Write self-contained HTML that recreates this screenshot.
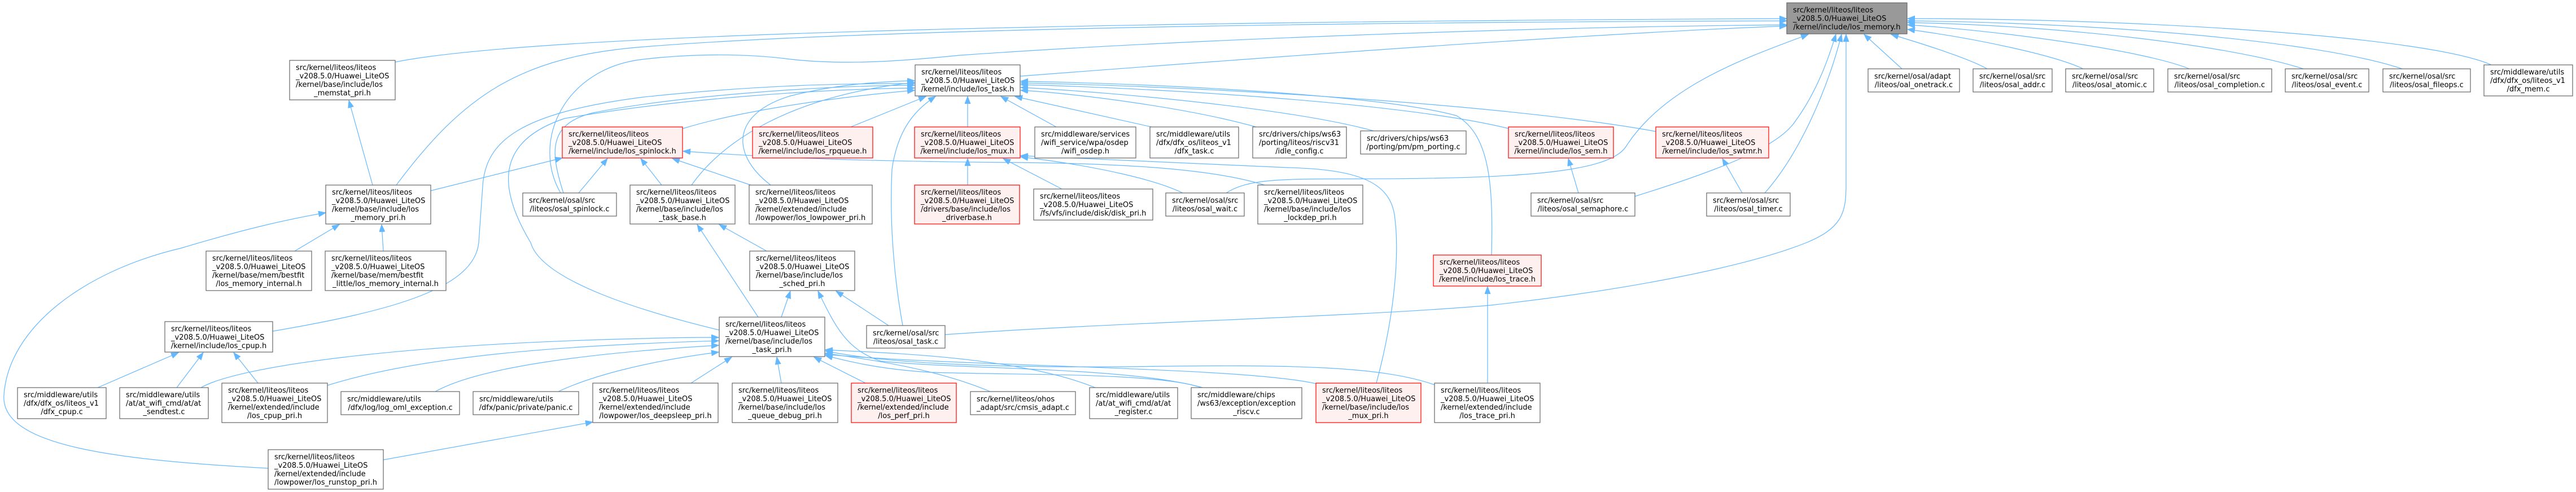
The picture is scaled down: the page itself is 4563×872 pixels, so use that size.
<!DOCTYPE html>
<html><head><meta charset="utf-8"><style>
html,body{margin:0;padding:0;background:#fff;}
svg{display:block;}
text{font-family:"DejaVu Sans","Liberation Sans",sans-serif;font-size:13px;fill:#000;}
.c{text-anchor:middle;}
.n{fill:#fff;stroke:#666;stroke-width:1.2;}
.r{fill:#fff0f0;stroke:#f00;stroke-width:1.2;}
.g{fill:#999;stroke:#666;stroke-width:1.2;}
.e path{fill:none;stroke:#63b8ff;stroke-width:1.2;marker-end:url(#a);}
</style></head><body>
<svg width="4563" height="872" viewBox="0 0 4563 872" xmlns="http://www.w3.org/2000/svg">
<defs><marker id="a" markerUnits="userSpaceOnUse" markerWidth="14" markerHeight="11" refX="13" refY="5" orient="auto"><path d="M0,0 L13,5 L0,10 z" fill="#63b8ff" stroke="#63b8ff" stroke-width="1"/></marker></defs>
<g class="e">
<path d="M700,110 C900,70 1600,40 3165,33"/>
<path d="M702,328 C820,170 920,100 1140,83 C1400,62 2000,40 3165,37"/>
<path d="M993,342 C940,250 1000,120 1140,105 C1200,98 1300,92 1400,105 C1500,116 1600,108 1700,98 C2100,70 2700,48 3165,44"/>
<path d="M1807,135 C2200,105 2800,60 3165,46"/>
<path d="M2172,342 C2210,318 2260,317 2400,317 C2700,317 2850,305 2880,260 C2950,150 3100,100 3203,61"/>
<path d="M2896,348 C3050,300 3150,260 3180,215 C3220,160 3240,100 3252,61"/>
<path d="M3126,342 C3190,270 3240,150 3262,61"/>
<path d="M1674,593 C2000,570 2400,562 2640,541 C2900,512 3100,470 3200,430 C3260,405 3270,380 3270,330 L3270,61"/>
<path d="M3369,122 L3302,61"/>
<path d="M3520,122 C3490,105 3420,82 3350,61"/>
<path d="M3690,122 C3640,98 3500,68 3379,52"/>
<path d="M3878,122 C3800,90 3550,55 3379,44"/>
<path d="M4080,122 C3950,80 3650,45 3379,40"/>
<path d="M4255,122 C4100,70 3700,40 3379,37"/>
<path d="M4413,115 C4300,65 3800,33 3379,33"/>
<path d="M1209,228 C1300,200 1450,175 1620,160"/>
<path d="M1507,225 L1640,171"/>
<path d="M1714,225 L1714,171"/>
<path d="M1871,225 L1773,171"/>
<path d="M2040,225 L1798,171"/>
<path d="M2225,225 C2100,190 1900,165 1808,160"/>
<path d="M2433,232 C2300,195 2000,165 1808,155"/>
<path d="M2673,228 C2500,185 2100,158 1808,150"/>
<path d="M2933,233 C2700,190 2200,155 1808,147"/>
<path d="M2642,452 C2645,330 2640,240 2580,205 C2450,170 2100,150 1808,144"/>
<path d="M483,587 C700,550 840,510 848,430 L855,330 C860,250 920,200 1140,172 C1350,150 1500,148 1620,148"/>
<path d="M998,342 C975,270 970,220 1050,200 C1200,170 1450,152 1620,151"/>
<path d="M1274,585 C1150,555 960,500 940,430 C880,330 880,250 1000,210 C1200,175 1450,158 1620,156"/>
<path d="M1225,328 C1280,250 1400,170 1620,146"/>
<path d="M1365,328 C1290,270 1300,200 1400,170 C1480,150 1550,145 1620,143"/>
<path d="M1599,577 C1585,500 1575,400 1580,300 C1590,230 1620,195 1657,171"/>
<path d="M660,328 L618,178"/>
<path d="M522,445 L601,398"/>
<path d="M679,445 L676,398"/>
<path d="M475,830 C200,815 0,790 7,700 C15,580 150,480 320,440 C420,410 500,390 577,377"/>
<path d="M763,338 L996,280"/>
<path d="M1025,342 L1076,281"/>
<path d="M1172,328 L1135,281"/>
<path d="M1330,328 L1191,281"/>
<path d="M2240,328 C2150,300 2000,290 1800,288 C1500,286 1350,278 1210,268"/>
<path d="M1714,328 L1714,281"/>
<path d="M1881,335 L1777,281"/>
<path d="M2095,342 C2050,320 1950,295 1808,278"/>
<path d="M2438,679 C2470,560 2480,450 2470,380 C2460,320 2400,300 2280,297 C2100,290 1950,282 1808,276"/>
<path d="M1343,562 L1235,398"/>
<path d="M1358,445 L1274,398"/>
<path d="M1384,562 L1400,516"/>
<path d="M1574,577 L1481,516"/>
<path d="M2130,687 C2000,650 1700,655 1560,640 C1500,620 1480,580 1449,516"/>
<path d="M1224,679 L1296,633"/>
<path d="M1384,679 L1376,633"/>
<path d="M1533,679 L1442,633"/>
<path d="M356,687 C420,650 700,610 1140,600 C1200,598 1240,598 1273,598"/>
<path d="M580,683 C750,630 1000,612 1273,604"/>
<path d="M771,694 C850,650 1050,625 1273,612"/>
<path d="M989,694 C1050,665 1150,640 1273,624"/>
<path d="M1754,694 C1650,650 1520,635 1462,626"/>
<path d="M1940,687 C1800,630 1550,625 1462,620"/>
<path d="M2128,687 C2050,660 1800,665 1650,660 C1560,655 1500,640 1462,630"/>
<path d="M2331,680 C2200,650 1700,650 1462,628"/>
<path d="M2541,682 C2450,650 2300,645 2000,650 C1700,652 1550,640 1462,622"/>
<path d="M173,687 L316,625"/>
<path d="M313,687 L360,625"/>
<path d="M457,679 L414,625"/>
<path d="M679,815 L1050,748"/>
<path d="M2635,679 L2635,508"/>
<path d="M2796,342 L2778,281"/>
<path d="M3086,342 L3051,281"/>
</g>

<!-- Row 0 -->
<rect class="g" x="3165" y="5" width="213" height="55"/>
<text x="3176" y="22">src/kernel/liteos/liteos</text><text x="3176" y="37">_v208.5.0/Huawei_LiteOS</text><text class="c" x="3271.5" y="52">/kernel/include/los_memory.h</text>

<!-- Row 1 -->
<rect class="n" x="513" y="107" width="187" height="70"/>
<text x="524" y="124">src/kernel/liteos/liteos</text><text x="524" y="139">_v208.5.0/Huawei_LiteOS</text><text x="524" y="154">/kernel/base/include/los</text><text class="c" x="606.5" y="169">_memstat_pri.h</text>

<rect class="n" x="1621" y="115" width="186" height="55"/>
<text x="1632" y="132">src/kernel/liteos/liteos</text><text x="1632" y="147">_v208.5.0/Huawei_LiteOS</text><text class="c" x="1714" y="162">/kernel/include/los_task.h</text>

<rect class="n" x="3309" y="122" width="162" height="41"/>
<text x="3320" y="139.5">src/kernel/osal/adapt</text><text class="c" x="3390" y="154.5">/liteos/oal_onetrack.c</text>

<rect class="n" x="3495" y="122" width="140" height="41"/>
<text x="3506" y="139.5">src/kernel/osal/src</text><text class="c" x="3565" y="154.5">/liteos/osal_addr.c</text>

<rect class="n" x="3659" y="122" width="156" height="41"/>
<text x="3670" y="139.5">src/kernel/osal/src</text><text class="c" x="3737" y="154.5">/liteos/osal_atomic.c</text>

<rect class="n" x="3840" y="122" width="184" height="41"/>
<text x="3851" y="139.5">src/kernel/osal/src</text><text class="c" x="3932" y="154.5">/liteos/osal_completion.c</text>

<rect class="n" x="4048" y="122" width="148" height="41"/>
<text x="4059" y="139.5">src/kernel/osal/src</text><text class="c" x="4122" y="154.5">/liteos/osal_event.c</text>

<rect class="n" x="4221" y="122" width="155" height="41"/>
<text x="4232" y="139.5">src/kernel/osal/src</text><text class="c" x="4298.5" y="154.5">/liteos/osal_fileops.c</text>

<rect class="n" x="4400" y="115" width="157" height="55"/>
<text x="4411" y="132">src/middleware/utils</text><text x="4411" y="147">/dfx/dfx_os/liteos_v1</text><text class="c" x="4478.5" y="162">/dfx_mem.c</text>

<!-- Row 2 -->
<rect class="r" x="996" y="225" width="213" height="55"/>
<text x="1007" y="242">src/kernel/liteos/liteos</text><text x="1007" y="257">_v208.5.0/Huawei_LiteOS</text><text class="c" x="1102.5" y="272">/kernel/include/los_spinlock.h</text>

<rect class="r" x="1333" y="225" width="213" height="55"/>
<text x="1344" y="242">src/kernel/liteos/liteos</text><text x="1344" y="257">_v208.5.0/Huawei_LiteOS</text><text class="c" x="1439.5" y="272">/kernel/include/los_rpqueue.h</text>

<rect class="r" x="1620" y="225" width="187" height="55"/>
<text x="1631" y="242">src/kernel/liteos/liteos</text><text x="1631" y="257">_v208.5.0/Huawei_LiteOS</text><text class="c" x="1713.5" y="272">/kernel/include/los_mux.h</text>

<rect class="n" x="1833" y="225" width="179" height="55"/>
<text x="1844" y="242">src/middleware/services</text><text x="1844" y="257">/wifi_service/wpa/osdep</text><text class="c" x="1922.5" y="272">/wifi_osdep.h</text>

<rect class="n" x="2037" y="225" width="157" height="55"/>
<text x="2048" y="242">src/middleware/utils</text><text x="2048" y="257">/dfx/dfx_os/liteos_v1</text><text class="c" x="2115.5" y="272">/dfx_task.c</text>

<rect class="n" x="2219" y="225" width="166" height="55"/>
<text x="2230" y="242">src/drivers/chips/ws63</text><text x="2230" y="257">/porting/liteos/riscv31</text><text class="c" x="2302" y="272">/idle_config.c</text>

<rect class="n" x="2410" y="232" width="187" height="41"/>
<text x="2421" y="249.5">src/drivers/chips/ws63</text><text class="c" x="2503.5" y="264.5">/porting/pm/pm_porting.c</text>

<rect class="r" x="2672" y="225" width="186" height="55"/>
<text x="2683" y="242">src/kernel/liteos/liteos</text><text x="2683" y="257">_v208.5.0/Huawei_LiteOS</text><text class="c" x="2765" y="272">/kernel/include/los_sem.h</text>

<rect class="r" x="2933" y="225" width="200" height="55"/>
<text x="2944" y="242">src/kernel/liteos/liteos</text><text x="2944" y="257">_v208.5.0/Huawei_LiteOS</text><text class="c" x="3033" y="272">/kernel/include/los_swtmr.h</text>

<!-- Row 3 -->
<rect class="n" x="577" y="328" width="186" height="69"/>
<text x="588" y="345">src/kernel/liteos/liteos</text><text x="588" y="360">_v208.5.0/Huawei_LiteOS</text><text x="588" y="375">/kernel/base/include/los</text><text class="c" x="670" y="390">_memory_pri.h</text>

<rect class="n" x="926" y="342" width="166" height="41"/>
<text x="937" y="359.5">src/kernel/osal/src</text><text class="c" x="1009" y="374.5">/liteos/osal_spinlock.c</text>

<rect class="n" x="1116" y="328" width="186" height="69"/>
<text x="1127" y="345">src/kernel/liteos/liteos</text><text x="1127" y="360">_v208.5.0/Huawei_LiteOS</text><text x="1127" y="375">/kernel/base/include/los</text><text class="c" x="1209" y="390">_task_base.h</text>

<rect class="n" x="1327" y="328" width="218" height="69"/>
<text x="1338" y="345">src/kernel/liteos/liteos</text><text x="1338" y="360">_v208.5.0/Huawei_LiteOS</text><text x="1338" y="375">/kernel/extended/include</text><text class="c" x="1436" y="390">/lowpower/los_lowpower_pri.h</text>

<rect class="r" x="1620" y="328" width="186" height="69"/>
<text x="1631" y="345">src/kernel/liteos/liteos</text><text x="1631" y="360">_v208.5.0/Huawei_LiteOS</text><text x="1631" y="375">/drivers/base/include/los</text><text class="c" x="1713" y="390">_driverbase.h</text>

<rect class="n" x="1831" y="335" width="211" height="55"/>
<text x="1842" y="352">src/kernel/liteos/liteos</text><text x="1842" y="367">_v208.5.0/Huawei_LiteOS</text><text class="c" x="1936.5" y="382">/fs/vfs/include/disk/disk_pri.h</text>

<rect class="n" x="2065" y="342" width="139" height="41"/>
<text x="2076" y="359.5">src/kernel/osal/src</text><text class="c" x="2134.5" y="374.5">/liteos/osal_wait.c</text>

<rect class="n" x="2228" y="328" width="186" height="69"/>
<text x="2239" y="345">src/kernel/liteos/liteos</text><text x="2239" y="360">_v208.5.0/Huawei_LiteOS</text><text x="2239" y="375">/kernel/base/include/los</text><text class="c" x="2321" y="390">_lockdep_pri.h</text>

<rect class="n" x="2712" y="342" width="184" height="41"/>
<text x="2723" y="359.5">src/kernel/osal/src</text><text class="c" x="2804" y="374.5">/liteos/osal_semaphore.c</text>

<rect class="n" x="3023" y="342" width="148" height="41"/>
<text x="3034" y="359.5">src/kernel/osal/src</text><text class="c" x="3097" y="374.5">/liteos/osal_timer.c</text>

<!-- Row 4 -->
<rect class="n" x="365" y="445" width="187" height="70"/>
<text x="376" y="462">src/kernel/liteos/liteos</text><text x="376" y="477">_v208.5.0/Huawei_LiteOS</text><text x="376" y="492">/kernel/base/mem/bestfit</text><text class="c" x="458.5" y="507">/los_memory_internal.h</text>

<rect class="n" x="576" y="445" width="214" height="70"/>
<text x="587" y="462">src/kernel/liteos/liteos</text><text x="587" y="477">_v208.5.0/Huawei_LiteOS</text><text x="587" y="492">/kernel/base/mem/bestfit</text><text class="c" x="683" y="507">_little/los_memory_internal.h</text>

<rect class="n" x="1328" y="445" width="186" height="70"/>
<text x="1339" y="462">src/kernel/liteos/liteos</text><text x="1339" y="477">_v208.5.0/Huawei_LiteOS</text><text x="1339" y="492">/kernel/base/include/los</text><text class="c" x="1421" y="507">_sched_pri.h</text>

<rect class="r" x="2539" y="452" width="191" height="55"/>
<text x="2550" y="469">src/kernel/liteos/liteos</text><text x="2550" y="484">_v208.5.0/Huawei_LiteOS</text><text class="c" x="2634.5" y="499">/kernel/include/los_trace.h</text>

<!-- Row 5 -->
<rect class="n" x="292" y="570" width="191" height="54"/>
<text x="303" y="587">src/kernel/liteos/liteos</text><text x="303" y="602">_v208.5.0/Huawei_LiteOS</text><text class="c" x="387.5" y="617">/kernel/include/los_cpup.h</text>

<rect class="n" x="1274" y="562" width="187" height="70"/>
<text x="1285" y="579">src/kernel/liteos/liteos</text><text x="1285" y="594">_v208.5.0/Huawei_LiteOS</text><text x="1285" y="609">/kernel/base/include/los</text><text class="c" x="1367.5" y="624">_task_pri.h</text>

<rect class="n" x="1535" y="577" width="139" height="40"/>
<text x="1546" y="594.5">src/kernel/osal/src</text><text class="c" x="1604.5" y="609.5">/liteos/osal_task.c</text>

<!-- Row 6 -->
<rect class="n" x="31" y="687" width="157" height="55"/>
<text x="42" y="704">src/middleware/utils</text><text x="42" y="719">/dfx/dfx_os/liteos_v1</text><text class="c" x="109.5" y="734">/dfx_cpup.c</text>

<rect class="n" x="212" y="687" width="157" height="55"/>
<text x="223" y="704">src/middleware/utils</text><text x="223" y="719">/at/at_wifi_cmd/at/at</text><text class="c" x="290.5" y="734">_sendtest.c</text>

<rect class="n" x="393" y="679" width="187" height="70"/>
<text x="404" y="696">src/kernel/liteos/liteos</text><text x="404" y="711">_v208.5.0/Huawei_LiteOS</text><text x="404" y="726">/kernel/extended/include</text><text class="c" x="486.5" y="741">/los_cpup_pri.h</text>

<rect class="n" x="604" y="694" width="210" height="41"/>
<text x="615" y="711.5">src/middleware/utils</text><text class="c" x="709" y="726.5">/dfx/log/log_oml_exception.c</text>

<rect class="n" x="838" y="694" width="187" height="41"/>
<text x="849" y="711.5">src/middleware/utils</text><text class="c" x="931.5" y="726.5">/dfx/panic/private/panic.c</text>

<rect class="n" x="1050" y="679" width="222" height="70"/>
<text x="1061" y="696">src/kernel/liteos/liteos</text><text x="1061" y="711">_v208.5.0/Huawei_LiteOS</text><text x="1061" y="726">/kernel/extended/include</text><text class="c" x="1161" y="741">/lowpower/los_deepsleep_pri.h</text>

<rect class="n" x="1297" y="679" width="187" height="70"/>
<text x="1308" y="696">src/kernel/liteos/liteos</text><text x="1308" y="711">_v208.5.0/Huawei_LiteOS</text><text x="1308" y="726">/kernel/base/include/los</text><text class="c" x="1390.5" y="741">_queue_debug_pri.h</text>

<rect class="r" x="1508" y="679" width="186" height="70"/>
<text x="1519" y="696">src/kernel/liteos/liteos</text><text x="1519" y="711">_v208.5.0/Huawei_LiteOS</text><text x="1519" y="726">/kernel/extended/include</text><text class="c" x="1601" y="741">/los_perf_pri.h</text>

<rect class="n" x="1719" y="694" width="186" height="41"/>
<text x="1730" y="711.5">src/kernel/liteos/ohos</text><text class="c" x="1812" y="726.5">_adapt/src/cmsis_adapt.c</text>

<rect class="n" x="1930" y="687" width="156" height="55"/>
<text x="1941" y="704">src/middleware/utils</text><text x="1941" y="719">/at/at_wifi_cmd/at/at</text><text class="c" x="2008" y="734">_register.c</text>

<rect class="n" x="2110" y="687" width="196" height="55"/>
<text x="2121" y="704">src/middleware/chips</text><text x="2121" y="719">/ws63/exception/exception</text><text class="c" x="2208" y="734">_riscv.c</text>

<rect class="r" x="2331" y="679" width="186" height="70"/>
<text x="2342" y="696">src/kernel/liteos/liteos</text><text x="2342" y="711">_v208.5.0/Huawei_LiteOS</text><text x="2342" y="726">/kernel/base/include/los</text><text class="c" x="2424" y="741">_mux_pri.h</text>

<rect class="n" x="2541" y="679" width="187" height="70"/>
<text x="2552" y="696">src/kernel/liteos/liteos</text><text x="2552" y="711">_v208.5.0/Huawei_LiteOS</text><text x="2552" y="726">/kernel/extended/include</text><text class="c" x="2634.5" y="741">/los_trace_pri.h</text>

<!-- Row 7 -->
<rect class="n" x="475" y="797" width="204" height="70"/>
<text x="486" y="814">src/kernel/liteos/liteos</text><text x="486" y="829">_v208.5.0/Huawei_LiteOS</text><text x="486" y="844">/kernel/extended/include</text><text class="c" x="577" y="859">/lowpower/los_runstop_pri.h</text>
</svg>
</body></html>
